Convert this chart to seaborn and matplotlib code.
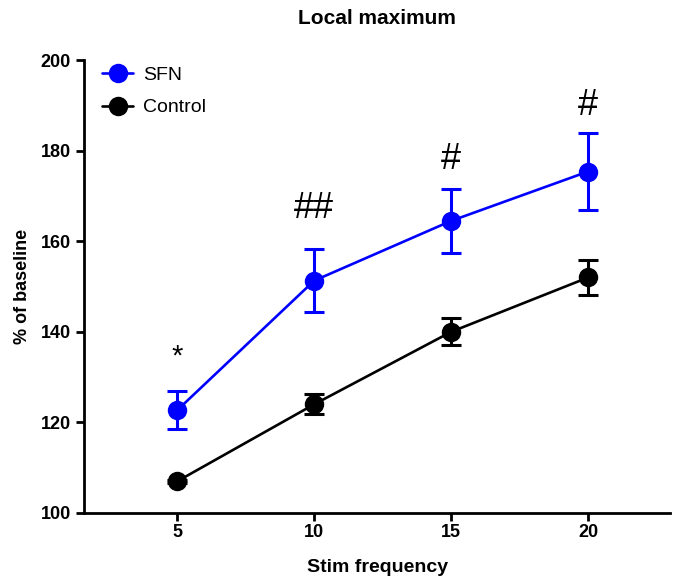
import pandas as pd
import matplotlib
matplotlib.use('Agg')
import matplotlib.pyplot as plt
import seaborn as sns

# Data
freqs = [5, 10, 15, 20]
sfn_mean = [122.7, 151.3, 164.5, 175.4]
sfn_err = [4.2, 6.9, 7.0, 8.6]
ctrl_mean = [107.0, 124.0, 140.0, 152.0]
ctrl_err = [0.3, 2.2, 3.0, 3.9]
marks = ['*', '##', '#', '#']
mark_y = [134.5, 167.3, 178.0, 190.0]

df = pd.DataFrame({
    'Stim frequency': freqs * 2,
    'value': sfn_mean + ctrl_mean,
    'group': ['SFN'] * 4 + ['Control'] * 4,
})

sns.set_style("ticks")
plt.rcParams['font.family'] = ['Liberation Sans', 'DejaVu Sans']
for key in ['text.color', 'axes.labelcolor', 'xtick.color', 'ytick.color', 'axes.edgecolor']:
    plt.rcParams[key] = 'black'

fig = plt.figure(figsize=(6.73, 5.78), dpi=100)
ax = fig.add_axes([0.125, 0.1125, 0.871, 0.7835])

palette = {'SFN': '#0000ff', 'Control': '#000000'}

for grp, err in [('Control', ctrl_err), ('SFN', sfn_err)]:
    sub = df[df['group'] == grp]
    ax.errorbar(sub['Stim frequency'], sub['value'], yerr=err, fmt='none',
                ecolor=palette[grp], elinewidth=2.2, capsize=7, capthick=2.2, zorder=2)

sns.lineplot(data=df, x='Stim frequency', y='value', hue='group',
             hue_order=['SFN', 'Control'], palette=palette, marker='o',
             markersize=14, markeredgewidth=0, linewidth=1.9, ax=ax, zorder=3)

for x, y, m in zip(freqs, mark_y, marks):
    ax.text(x, y, m, ha='center', va='center', fontsize=26 if m != '*' else 21,
            color='black')

ax.set_xlim(1.6, 23)
ax.set_ylim(100, 200)
ax.set_xticks(freqs)
ax.set_yticks(range(100, 201, 20))
ax.set_title('Local maximum', fontsize=15, fontweight='bold', pad=26)
ax.set_xlabel('Stim frequency', fontsize=14, fontweight='bold', labelpad=13)
ax.set_ylabel('% of baseline', fontsize=13, fontweight='bold', labelpad=7)
for lbl in ax.get_xticklabels() + ax.get_yticklabels():
    lbl.set_fontweight('bold')
ax.tick_params(axis='both', width=2, length=6, labelsize=13)
ax.tick_params(axis='x', pad=2)

sns.despine(ax=ax)
for s in ['left', 'bottom']:
    ax.spines[s].set_linewidth(2)

leg = ax.legend(loc='upper left', bbox_to_anchor=(0.004, 1.02), frameon=False,
                fontsize=14, handlelength=1.6, labelspacing=0.75, borderaxespad=0.4,
                handletextpad=0.5)

fig.savefig('out.png', dpi=100)
